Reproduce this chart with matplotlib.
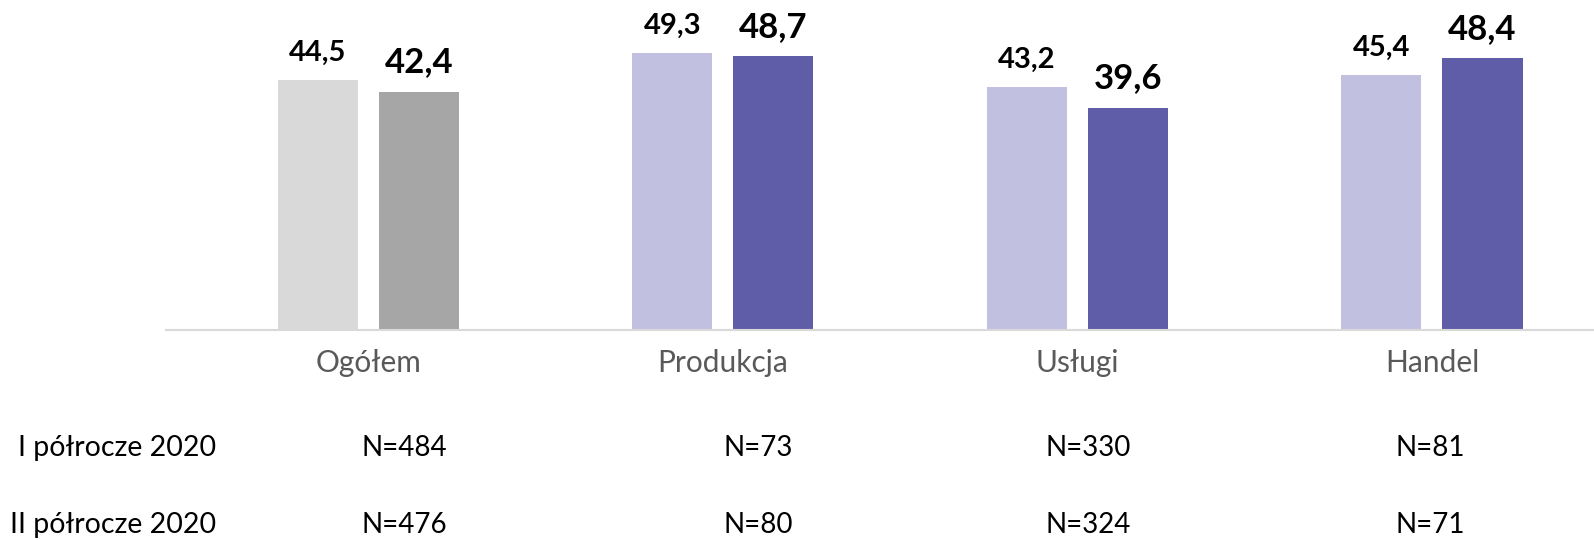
import matplotlib.pyplot as plt
from matplotlib.transforms import blended_transform_factory

# dane
kategorie = ['Ogółem', 'Produkcja', 'Usługi', 'Handel']
polrocze_1 = [44.5, 49.3, 43.2, 45.4]
polrocze_2 = [42.4, 48.7, 39.6, 48.4]
n_1 = [484, 73, 330, 81]
n_2 = [476, 80, 324, 71]
wiersze = ['I półrocze 2020', 'II półrocze 2020']

# kolory: szare dla "Ogółem", fioletowe dla reszty
kolor_1 = ['#D9D9D9', '#C2C0E0', '#C2C0E0', '#C2C0E0']
kolor_2 = ['#A6A6A6', '#605DA8', '#605DA8', '#605DA8']

plt.rcParams['font.family'] = ['Lato', 'DejaVu Sans']

W, H = 1594, 540
fig = plt.figure(figsize=(W / 100, H / 100), dpi=100)
ax = fig.add_axes([166 / W, 1 - 330 / H, 1 - 166 / W, 330 / H])

x = list(range(len(kategorie)))
szer = 0.2257
przes = 0.1425
b1 = ax.bar([i - przes for i in x], polrocze_1, width=szer, color=kolor_1)
b2 = ax.bar([i + przes for i in x], polrocze_2, width=szer, color=kolor_2)

for rect, v in zip(b1, polrocze_1):
    ax.annotate(f'{v:.1f}'.replace('.', ','), (rect.get_x() + rect.get_width() / 2, v),
                xytext=(0, 14), textcoords='offset points', ha='center', va='baseline',
                fontsize=21, fontweight='bold', annotation_clip=False)
for rect, v in zip(b2, polrocze_2):
    ax.annotate(f'{v:.1f}'.replace('.', ','), (rect.get_x() + rect.get_width() / 2, v),
                xytext=(0, 14), textcoords='offset points', ha='center', va='baseline',
                fontsize=25, fontweight='bold', annotation_clip=False)

ax.set_xlim(-0.571, 3.457)
ax.set_ylim(0, 58.75)
for s in ['top', 'right', 'left']:
    ax.spines[s].set_visible(False)
ax.spines['bottom'].set_color('#D9D9D9')
ax.spines['bottom'].set_linewidth(1.5)
ax.set_xticks([])
ax.set_yticks([])

# etykiety kategorii i tabelka z N
tr = blended_transform_factory(ax.transData, fig.transFigure)
n_off = [0.10, 0.10, 0.03, -0.005]
for i, k in enumerate(kategorie):
    ax.text(i, 1 - 363 / H, k, transform=tr, ha='center', va='center',
            fontsize=21.5, color='#595959')
    ax.text(i + n_off[i], 1 - 448 / H, f'N={n_1[i]}', transform=tr,
            ha='center', va='center', fontsize=20, color='black')
    ax.text(i + n_off[i], 1 - 525 / H, f'N={n_2[i]}', transform=tr,
            ha='center', va='center', fontsize=20, color='black')

fig.text(216 / W, 1 - 448 / H, wiersze[0], ha='right', va='center', fontsize=20.5)
fig.text(216 / W, 1 - 525 / H, wiersze[1], ha='right', va='center', fontsize=20.5)

plt.savefig('out.png', dpi=100)
